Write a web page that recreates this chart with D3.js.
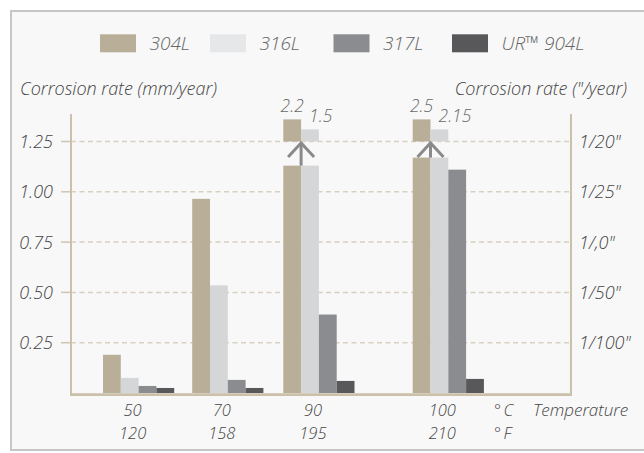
<!DOCTYPE html>
<html><head><meta charset="utf-8">
<script src="https://cdn.jsdelivr.net/npm/d3@7"></script>
<style>
html,body{margin:0;padding:0;background:#fff;}
svg text{font-family:"Open Sans",sans-serif;font-style:italic;font-weight:300;}
</style></head>
<body><svg id="c" width="644" height="453"></svg>
<script>
// ---- data ----
const temps = ["50","70","90","100"];
const tempsF = ["120","158","195","210"];
const series = ["304L","316L","317L","UR™ 904L"];
const v304 = [0.19, 0.965, 1.13, 1.17];
const v316 = [0.075, 0.535, 1.13, 1.17];
const v317 = [0.035, 0.065, 0.39, 1.11];
const v904 = [0.025, 0.025, 0.06, 0.07];
const leftTicks = [0.25, 0.50, 0.75, 1.00, 1.25];
const rightTickLabels = ['1/100"', '1/50"', '1/,0"', '1/25"', '1/20"'];
const brokenTemps = ["90","100"];
const broken304 = ["2.2","2.5"];
const broken316 = ["1.5","2.15"];
const breakBase = 1.25;
const breakCap304 = 1.36, breakCap316 = 1.31;

const colors = ["#b9af98","#d5d6d8","#8b8c90","#58585a"];
const seriesVals = [v304, v316, v317, v904];

const svg = d3.select("#c");
svg.append("rect").attr("x",11).attr("y",11).attr("width",700).attr("height",439)
  .attr("fill","#f8f8f8").attr("stroke","#c6c6c6").attr("stroke-width",2);

const y = d3.scaleLinear().domain([0,1.25]).range([393,141.5]);
const gx = d3.scaleOrdinal().domain(temps).range([103,192.2,283.3,412.7]);
const inner = d3.scaleBand().domain(series).range([0,71.2]);
const color = d3.scaleOrdinal().domain(series).range(colors);
const axisL = 71, axisR = 571, axisTop = 114;
const txt = "#454545";

// gridlines
const grid = svg.append("g");
grid.selectAll("line").data(leftTicks).join("line")
  .attr("x1",axisL).attr("x2",axisR).attr("y1",d=>y(d)).attr("y2",d=>y(d))
  .attr("stroke","#d8d0bf").attr("stroke-width",1.5).attr("stroke-dasharray","5,3.5");
grid.selectAll(".tk").data(leftTicks).join("line").attr("class","tk")
  .attr("x1",61).attr("x2",axisL).attr("y1",d=>y(d)).attr("y2",d=>y(d))
  .attr("stroke","#cfc6b2").attr("stroke-width",1.5);

// bars
const rows = [];
series.forEach((s,si)=>temps.forEach((t,ti)=>rows.push({s,t,v:seriesVals[si][ti]})));
svg.append("g").selectAll("rect").data(rows).join("rect")
  .attr("x",d=>gx(d.t)+inner(d.s)).attr("width",inner.bandwidth())
  .attr("y",d=>y(d.v)).attr("height",d=>y(0)-y(d.v)).attr("fill",d=>color(d.s));

// broken segments
const brk = [];
brokenTemps.forEach((t,i)=>{
  brk.push({t,s:"304L",cap:breakCap304,label:broken304[i]});
  brk.push({t,s:"316L",cap:breakCap316,label:broken316[i]});
});
const bg = svg.append("g");
bg.selectAll("rect").data(brk).join("rect")
  .attr("x",d=>gx(d.t)+inner(d.s)).attr("width",inner.bandwidth())
  .attr("y",d=>y(d.cap)).attr("height",d=>y(breakBase)-y(d.cap)).attr("fill",d=>color(d.s));
bg.selectAll("text").data(brk).join("text")
  .attr("x",d=>d.s==="304L" ? gx(d.t)+inner(d.s)+inner.bandwidth()/2 : gx(d.t)+inner(d.s)+8)
  .attr("y",d=>y(d.cap)-7)
  .attr("text-anchor",d=>d.s==="304L"?"middle":"start")
  .attr("font-size",17.5).attr("fill","#6a6a6a")
  .text(d=>d.label);
// arrows
brokenTemps.forEach((t,i)=>{
  const ax = gx(t)+inner("316L");
  const top = y(breakBase)+1.5;
  const bot = y(v304[temps.indexOf(t)]);
  const g = svg.append("g").attr("stroke","#8a8a8c").attr("stroke-width",3).attr("fill","none");
  g.append("line").attr("x1",ax).attr("x2",ax).attr("y1",top).attr("y2",bot);
  g.append("path").attr("d",d3.line()([[ax-13,top+14],[ax,top],[ax+13,top+14]]));
});

// axes lines
const axc = "#cbc1aa";
svg.append("line").attr("x1",axisL).attr("x2",axisL).attr("y1",axisTop).attr("y2",395.5).attr("stroke",axc).attr("stroke-width",2);
svg.append("line").attr("x1",axisR).attr("x2",axisR).attr("y1",axisTop).attr("y2",395.5).attr("stroke",axc).attr("stroke-width",2);
svg.append("line").attr("x1",axisL-1).attr("x2",axisR+1).attr("y1",394.6).attr("y2",394.6).attr("stroke",axc).attr("stroke-width",2.6);

// tick labels
svg.append("g").selectAll("text").data(leftTicks).join("text")
  .attr("x",53).attr("y",d=>y(d)).attr("dy","0.36em").attr("text-anchor","end")
  .attr("font-size",18).attr("fill",txt).text(d=>d3.format(".2f")(d));
svg.append("g").selectAll("text").data(leftTicks).join("text")
  .attr("x",579).attr("y",d=>y(d)).attr("dy","0.36em")
  .attr("font-size",18).attr("fill",txt).text((d,i)=>rightTickLabels[i]);

// axis titles
svg.append("text").attr("x",20).attr("y",95).attr("font-size",18).attr("fill",txt).text("Corrosion rate (mm/year)");
svg.append("text").attr("x",627).attr("y",95).attr("text-anchor","end").attr("font-size",18).attr("fill",txt).text("Corrosion rate (\"/year)");

// x labels
const fs = 16.5;
const xl = svg.append("g").attr("font-size",fs).attr("fill",txt);
xl.selectAll(".c").data(temps).join("text").attr("class","c")
  .attr("x",d=>gx(d)+35.6-6).attr("y",415.5).attr("text-anchor","middle").text(d=>d);
xl.selectAll(".f").data(tempsF).join("text").attr("class","f")
  .attr("x",(d,i)=>gx(temps[i])+35.6-6).attr("y",438.5).attr("text-anchor","middle").text(d=>d);
svg.append("text").attr("x",494).attr("y",415.5).attr("font-size",fs).attr("fill",txt).attr("letter-spacing",2.5).text("°C");
svg.append("text").attr("x",494).attr("y",438.5).attr("font-size",fs).attr("fill",txt).attr("letter-spacing",2.5).text("°F");
svg.append("text").attr("x",533).attr("y",415.5).attr("font-size",17).attr("fill",txt).text("Temperature");

// legend
const lx = d3.scaleOrdinal().domain(series).range([100,210,333.5,452]);
const lg = svg.append("g");
lg.selectAll("rect").data(series).join("rect")
  .attr("x",d=>lx(d)).attr("y",34.3).attr("width",36).attr("height",18).attr("fill",(d,i)=>i===1?"#e6e7e9":color(d));
lg.selectAll("text").data(series).join("text")
  .attr("x",d=>lx(d)+49.5).attr("y",43.3).attr("dy","0.36em")
  .attr("font-size",19).attr("fill","#666").text(d=>d);
</script></body></html>
